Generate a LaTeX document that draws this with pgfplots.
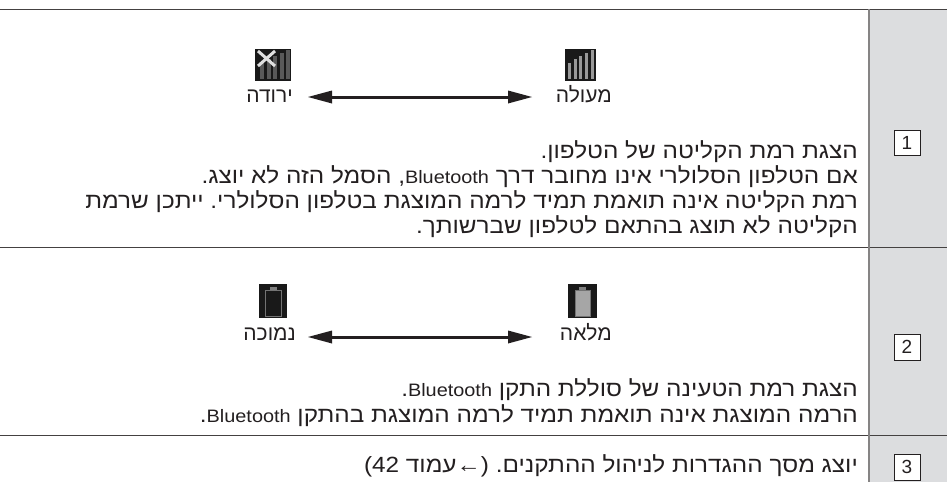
\documentclass[border=0pt]{standalone}
\usepackage{pgfplots}
\pgfplotsset{compat=1.18}
\usepackage{fontspec}
\setmainfont{Liberation Sans}
\newfontfamily\he[Script=Hebrew,FakeStretch=1.105]{Liberation Sans}
\newfontfamily\hel[Script=Hebrew]{Liberation Sans}
\TeXXeTstate=1
\frenchspacing
\definecolor{ink}{HTML}{231F20}
\definecolor{band}{HTML}{DCDDDF}
\newcommand{\bt}{\beginL{\fontsize{18}{18}\selectfont Bluetooth}\endL{}}
\newcommand{\heline}[3]{\node[anchor=base east,inner sep=0pt,text=ink] at (axis cs:#1,#2) {\he\fontsize{22}{25}\selectfont #3};}
\newcommand{\helab}[3]{\node[anchor=base east,inner sep=0pt,text=ink] at (axis cs:#1,#2) {\hel\fontsize{21}{25}\selectfont #3};}
\newcommand{\rect}[5]{\addplot[fill=#5,draw=none,forget plot] coordinates {(#1,#2)(#3,#2)(#3,#4)(#1,#4)} -- cycle;}
\newcommand{\hl}[5]{\addplot[draw=#5,line width=#4,forget plot,no markers] coordinates {(#1,#3)(#2,#3)};}
\begin{document}
\begin{tikzpicture}
\useasboundingbox (0,0) rectangle (947pt,482pt);
\begin{axis}[scale only axis,width=947pt,height=482pt,xmin=0,xmax=947,ymin=0,ymax=482,y dir=reverse,hide axis,clip=false]
% grey band
\rect{869}{9}{947}{482}{band}
% rules
\hl{0}{947}{9}{1pt}{ink!85}
\hl{0}{947}{247}{1pt}{ink!85}
\hl{0}{947}{435}{1pt}{ink!85}
\addplot[draw=ink!55,line width=1.4pt,forget plot] coordinates {(869,9)(869,482)};
% number boxes
\addplot[draw=ink,fill=white,line width=0.8pt,forget plot] coordinates {(894,130)(920,130)(920,155)(894,155)} -- cycle;
\addplot[draw=ink,fill=white,line width=0.8pt,forget plot] coordinates {(894,334)(920,334)(920,360)(894,360)} -- cycle;
\addplot[draw=ink,fill=white,line width=0.8pt,forget plot] coordinates {(894,454)(920,454)(920,480)(894,480)} -- cycle;
\node[text=ink,font=\fontsize{19}{20}\selectfont,anchor=base] at (axis cs:907,149.5) {1};
\node[text=ink,font=\fontsize{19}{20}\selectfont,anchor=base] at (axis cs:907,353.5) {2};
\node[text=ink,font=\fontsize{19}{20}\selectfont,anchor=base] at (axis cs:907,473.5) {3};
% arrows
\hl{325}{515}{97}{3pt}{ink}
\hl{325}{515}{337}{3pt}{ink}
\addplot[fill=ink,draw=none,forget plot] coordinates {(308,97)(332,90.5)(332,103.5)} -- cycle;
\addplot[fill=ink,draw=none,forget plot] coordinates {(532,97)(508,90.5)(508,103.5)} -- cycle;
\addplot[fill=ink,draw=none,forget plot] coordinates {(308,337)(332,330.5)(332,343.5)} -- cycle;
\addplot[fill=ink,draw=none,forget plot] coordinates {(532,337)(508,330.5)(508,343.5)} -- cycle;
% signal icon, strong
\rect{565}{49}{596}{81}{black!90}
\rect{567.5}{63}{570.5}{79}{black!40}
\rect{573.5}{59}{576.5}{79}{black!40}
\rect{579}{56}{582}{79}{black!40}
\rect{585}{53}{588}{79}{black!40}
\rect{591}{50}{594}{79}{black!40}
% signal icon, none
\rect{255}{49}{291}{81}{black!90}
\rect{260}{63}{264}{79}{black!65}
\rect{266.5}{59}{270.5}{79}{black!65}
\rect{273}{56}{277}{79}{black!65}
\rect{279.5}{53}{283.5}{79}{black!65}
\rect{285.5}{50}{289.5}{79}{black!65}
\addplot[draw=black!12,line width=3pt,forget plot] coordinates {(258,51)(275,66)};
\addplot[draw=black!12,line width=3pt,forget plot] coordinates {(275,51)(258,66)};
% battery empty
\rect{259}{284}{287}{318}{black!90}
\addplot[draw=black!55,line width=1pt,forget plot] coordinates {(265.5,290)(281.5,290)(281.5,316)(265.5,316)} -- cycle;
\rect{270}{287}{277}{289.5}{black!50}
% battery full
\rect{568}{284}{597}{318}{black!90}
\addplot[draw=black!55,line width=1pt,fill=black!35,forget plot] coordinates {(575,290)(590,290)(590,316)(575,316)} -- cycle;
\rect{579}{287}{586}{289.5}{black!50}
% icon labels
\helab{293}{102}{\beginR ירודה\endR}
\helab{612}{102}{\beginR מעולה\endR}
\helab{296}{340}{\beginR נמוכה\endR}
\helab{612}{340}{\beginR מלאה\endR}
% row 1
\heline{858}{158}{\beginR הצגת רמת הקליטה של הטלפון.\endR}
\heline{858}{183}{\beginR אם הטלפון הסלולרי אינו מחובר דרך \bt, הסמל הזה לא יוצג.\endR}
\heline{858}{208}{\beginR רמת הקליטה אינה תואמת תמיד לרמה המוצגת בטלפון הסלולרי. ייתכן שרמת\endR}
\heline{858}{233}{\beginR הקליטה לא תוצג בהתאם לטלפון שברשותך.\endR}
% row 2
\heline{858}{396}{\beginR הצגת רמת הטעינה של סוללת התקן \bt.\endR}
\heline{858}{422}{\beginR הרמה המוצגת אינה תואמת תמיד לרמה המוצגת בהתקן \bt.\endR}
% row 3
\heline{858}{472}{\beginR יוצג מסך ההגדרות לניהול ההתקנים. (←עמוד \beginL{}42\endL{})\endR}
\end{axis}
\end{tikzpicture}
\end{document}
